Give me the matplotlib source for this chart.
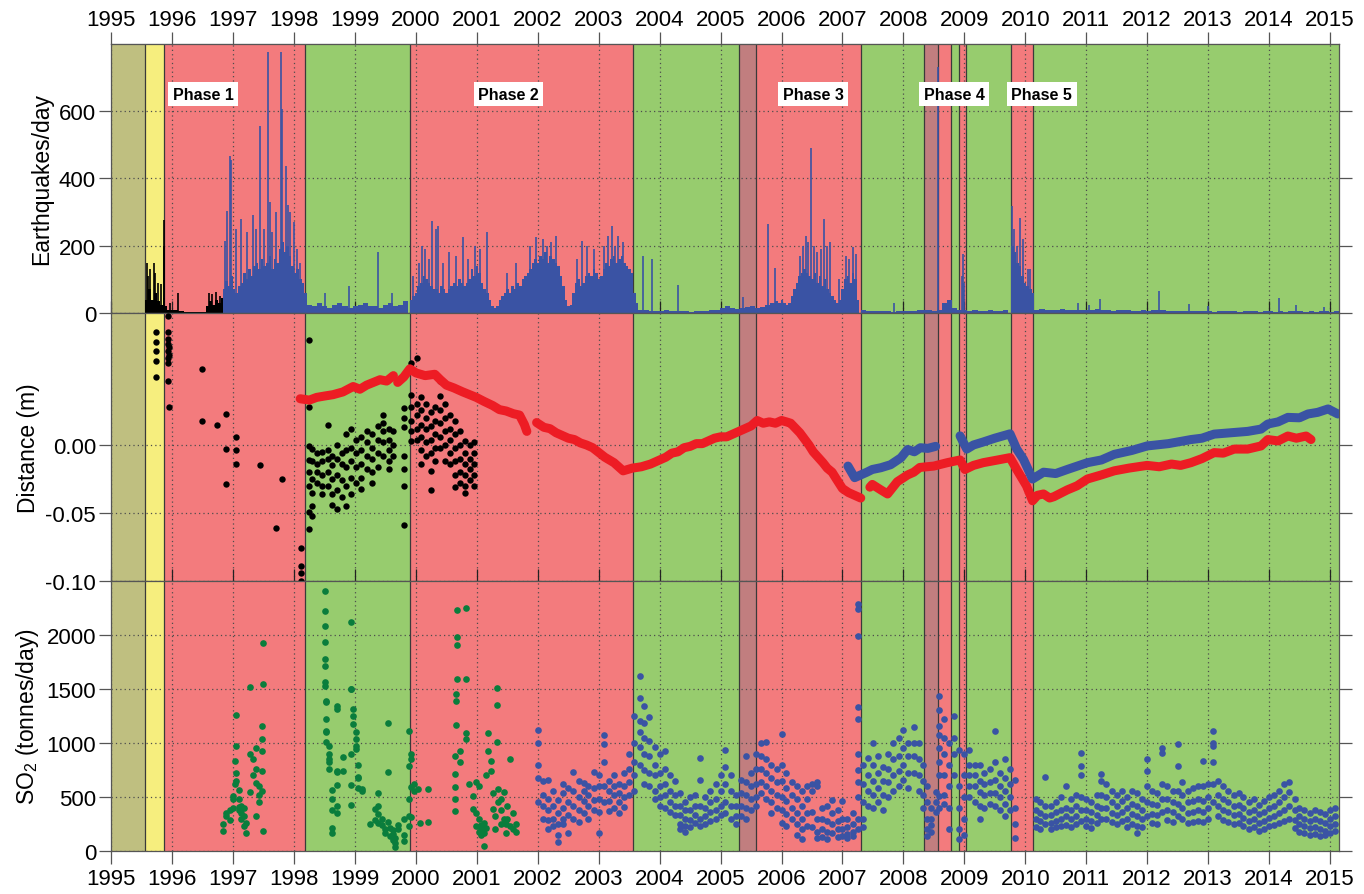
import numpy as np
import matplotlib
matplotlib.use('Agg')
import matplotlib.pyplot as plt

plt.rcParams['font.family'] = ['Liberation Sans', 'DejaVu Sans']
plt.rcParams['mathtext.fontset'] = 'custom'
plt.rcParams['mathtext.rm'] = 'Liberation Sans'
plt.rcParams['axes.unicode_minus'] = False

# ---------------- eruption phases (shaded background) ----------------
phase_edges = [1995.0, 1995.55, 1995.87, 1998.18, 1999.91, 2003.57, 2005.30, 2005.58,
               2007.31, 2008.34, 2008.57, 2008.78, 2008.92, 2009.02, 2009.77, 2010.12, 2015.15]
phase_kind = ['olive', 'yellow', 'red', 'green', 'red', 'green', 'brown', 'red',
              'green', 'brown', 'red', 'green', 'red', 'green', 'red', 'green']
phase_names = ['Phase 1', 'Phase 2', 'Phase 3', 'Phase 4', 'Phase 5']

# ---------------- earthquakes per day ----------------
eq_black_t = [1995.55, 1995.60, 1995.65, 1995.70, 1995.75, 1995.80, 1995.85, 1995.88, 1995.92,
              1996.00, 1996.10, 1996.20, 1996.40, 1996.55, 1996.60, 1996.65, 1996.70, 1996.75,
              1996.80, 1996.84]
eq_black_v = [40, 70, 40, 60, 35, 25, 45, 20, 10, 8, 5, 3, 3, 20, 35, 25, 40, 30, 45, 45]
eq_black_spike_t = [1995.58, 1995.61, 1995.64, 1995.70, 1995.72, 1995.77, 1995.82, 1995.86,
                    1995.87, 1995.96, 1996.10, 1996.60, 1996.66, 1996.72, 1996.78]
eq_black_spike_v = [150, 110, 130, 150, 120, 90, 85, 275, 200, 30, 60, 60, 55, 62, 50]

# half-monthly levels in the swarms, monthly levels in quiet periods
eq_p1 = [70, 95, 80, 110, 70, 60, 80, 90, 120, 100, 130, 110, 140, 150, 130, 160, 140,
         150, 170, 130, 160, 150, 190, 210, 180, 200, 170, 140, 120, 130, 100, 90, 60]
eq_q1 = [25, 20, 30, 20, 15, 25, 30, 20, 15, 20, 25, 30, 20, 20, 15, 25, 30, 20, 25, 35]
eq_p2 = [40, 50, 60, 80, 90, 110, 100, 90, 80, 70, 70, 60, 80, 70, 60, 70, 80,
         90, 80, 100, 90, 80, 90, 100, 130, 110, 140, 120, 90, 70, 60, 40, 20,
         15, 20, 40, 50, 60, 70, 60, 80, 70, 90, 80, 100, 110, 120,
         130, 150, 160, 150, 170, 160, 180, 150, 170, 160, 150, 140, 110, 80, 40, 20, 25,
         60, 90, 100, 80, 90, 110, 120, 110, 130, 120, 100, 110,
         130, 150, 140, 160, 170, 150, 160, 170, 150, 140, 130, 120, 60, 30]
eq_q2 = [10, 8, 6, 5, 6, 8, 7, 5, 6, 5, 4, 5, 6, 5, 8, 10, 15, 20, 15, 12, 15, 18, 20,
         15, 18, 25, 30]
eq_p3 = [35, 30, 40, 30, 25, 30, 50, 70, 90, 110, 120, 130, 120, 110, 100, 120, 90, 110,
         80, 100, 70, 60, 50, 40, 30, 40, 70, 100, 110, 90, 120, 100, 40]
eq_q3 = [8, 6, 5, 6, 5, 5, 4, 6, 5, 5, 6, 8, 10, 8, 6, 8, 30, 40, 15, 10, 8, 6, 8, 7, 6,
         8, 6, 5, 8]
eq_p5 = [200, 180, 150, 140, 110, 90, 80, 70, 60]
eq_q4 = [10, 12, 10, 8, 10, 12, 10, 8, 9, 10, 8, 10, 12, 10, 8, 6, 8, 10, 8, 6, 7, 8, 6,
         8, 10, 8, 6, 5, 6, 5, 6, 7, 5, 5, 6, 4, 5, 6, 5, 5, 4, 5, 6, 5, 4, 5, 6, 4, 5,
         4, 5, 6, 5, 4, 5, 4, 6, 5, 4, 5]
eq_segments = [(1996.83, 1 / 24, eq_p1), (1998.21, 1 / 12, eq_q1), (1999.90, 1 / 24, eq_p2),
               (2003.65, 1 / 12, eq_q2), (2005.90, 1 / 24, eq_p3), (2007.30, 1 / 12, eq_q3),
               (2009.77, 1 / 24, eq_p5), (2010.15, 1 / 12, eq_q4)]

eq_spike_t = [1996.86, 1996.90, 1996.94, 1996.97, 1997.04, 1997.13, 1997.22, 1997.32, 1997.38,
              1997.44, 1997.50, 1997.57, 1997.61, 1997.64, 1997.70, 1997.78, 1997.80, 1997.86,
              1997.90, 1997.94, 1998.00, 1998.05, 1998.10, 1998.50, 1998.90, 1999.38, 1999.60,
              1999.95, 2000.05, 2000.10, 2000.15, 2000.21, 2000.26, 2000.33, 2000.37, 2000.45,
              2000.55, 2000.65, 2000.78, 2000.85, 2000.97, 2001.05, 2001.17, 2001.50, 2001.65,
              2001.88, 2001.97, 2002.08, 2002.15, 2002.22, 2002.30, 2002.65, 2002.72, 2002.80,
              2002.92, 2003.08, 2003.15, 2003.22, 2003.27, 2003.32, 2003.40, 2003.72, 2003.87,
              2004.30, 2005.36, 2005.78, 2005.89, 2006.30, 2006.35, 2006.40, 2006.44, 2006.48,
              2006.53, 2006.58, 2006.65, 2006.69, 2006.75, 2006.80, 2006.95, 2007.05, 2007.11,
              2007.18, 2007.22, 2007.85, 2008.57, 2008.96, 2008.98, 2009.00, 2009.78, 2009.81,
              2009.86, 2009.92, 2009.97, 2010.05, 2010.08, 2010.87, 2011.05, 2011.22, 2012.20,
              2012.68, 2013.00, 2014.16, 2014.45, 2014.90]
eq_spike_v = [215, 302, 467, 455, 250, 280, 240, 290, 250,
              557, 250, 775, 330, 240, 300, 775, 607, 438,
              320, 300, 270, 190, 150, 60, 80, 180, 60,
              110, 150, 200, 190, 160, 274, 250, 259, 150,
              180, 170, 225, 160, 200, 190, 240, 120, 150,
              200, 225, 220, 200, 210, 230, 160, 215, 200,
              190, 200, 230, 260, 200, 230, 210, 170, 160,
              82, 48, 265, 135, 170, 200, 230, 210, 490,
              200, 180, 190, 280, 200, 210, 100, 170, 160,
              195, 175, 30, 730, 110, 175, 90, 318, 250,
              200, 283, 220, 130, 130, 30, 25, 42, 64,
              28, 20, 45, 25, 18]

# ---------------- GPS distance (m) ----------------
dist_black = [
    (1995.74, [0.083, 0.076, 0.069, 0.062, 0.050]),
    (1995.93, [0.095, 0.083, 0.078, 0.074, 0.069, 0.064, 0.060, 0.047]),
    (1995.95, [0.072, 0.066, 0.028]),
    (1996.49, [0.056, 0.018]), (1996.73, [0.015]), (1996.89, [0.023, -0.003, -0.029]),
    (1997.05, [0.006, -0.004, -0.014]), (1997.44, [-0.015]), (1997.70, [-0.061]),
    (1997.80, [-0.025]), (1998.12, [-0.076, -0.089, -0.094, -0.100]),
    (1998.24, [0.077, 0.028, -0.001, -0.011, -0.020, -0.030, -0.049, -0.062]),
    (1998.30, [-0.003, -0.012, -0.025, -0.035, -0.045, -0.052]),
    (1998.38, [-0.006, -0.014, -0.020, -0.028]),
    (1998.45, [-0.005, -0.012, -0.022, -0.030, -0.036]),
    (1998.55, [0.015, -0.004, -0.010, -0.020, -0.030]),
    (1998.62, [-0.008, -0.015, -0.025, -0.036, -0.044]),
    (1998.70, [0.000, -0.010, -0.022, -0.033, -0.047]),
    (1998.78, [-0.006, -0.014, -0.026, -0.038]),
    (1998.86, [0.008, -0.004, -0.016, -0.030, -0.045]),
    (1998.93, [0.012, -0.002, -0.012, -0.024, -0.036]),
    (1999.02, [0.004, -0.006, -0.016, -0.028]),
    (1999.10, [0.006, -0.004, -0.014, -0.024, -0.032]),
    (1999.19, [0.010, 0.002, -0.008, -0.018]),
    (1999.28, [0.008, -0.002, -0.010, -0.020, -0.028]),
    (1999.37, [0.014, 0.004, -0.006, -0.016]),
    (1999.46, [0.022, 0.016, 0.010, 0.002, -0.008]),
    (1999.55, [0.012, 0.004, -0.004, -0.012, -0.018]),
    (1999.63, [0.010, 0.000, -0.008]),
    (1999.80, [0.027, 0.020, 0.013, -0.008, -0.018, -0.030, -0.059]),
    (1999.92, [0.060, 0.037, 0.028, 0.018, 0.010, 0.003]),
    (2000.01, [0.064, 0.030, 0.022, 0.012, 0.004]),
    (2000.08, [0.035, 0.026, 0.015, 0.006, -0.004, -0.014]),
    (2000.16, [0.030, 0.020, 0.012, 0.002, -0.008]),
    (2000.24, [0.024, 0.014, 0.004, -0.006, -0.019, -0.033]),
    (2000.32, [0.028, 0.018, 0.008, -0.002, -0.012]),
    (2000.40, [0.047, 0.036, 0.026, 0.016, 0.006, -0.002]),
    (2000.48, [0.030, 0.020, 0.010, 0.000, -0.012]),
    (2000.56, [0.022, 0.012, 0.004, -0.006, -0.014]),
    (2000.64, [0.018, 0.008, -0.002, -0.012, -0.022, -0.031]),
    (2000.72, [0.010, 0.000, -0.010, -0.020, -0.028]),
    (2000.80, [0.003, -0.006, -0.014, -0.022, -0.030, -0.035]),
    (2000.88, [0.000, -0.010, -0.018, -0.026]),
    (2000.96, [0.002, -0.006, -0.014, -0.022, -0.030]),
]

dist_red_1_t = [1998.10, 1998.25, 1998.37, 1998.50, 1998.64, 1998.80, 1998.97, 1999.08, 1999.19,
                1999.30, 1999.41, 1999.52, 1999.63]
dist_red_1_v = [0.034, 0.033, 0.035, 0.036, 0.037, 0.039, 0.043, 0.041, 0.044,
                0.046, 0.048, 0.047, 0.051]
dist_red_2_t = [1999.70, 1999.80, 1999.90, 2000.00, 2000.15, 2000.31, 2000.40, 2000.50, 2000.62,
                2000.77, 2000.88, 2000.99, 2001.12, 2001.26, 2001.37, 2001.48, 2001.60, 2001.70,
                2001.78, 2001.82]
dist_red_2_v = [0.046, 0.050, 0.056, 0.053, 0.051, 0.052, 0.048, 0.044, 0.042,
                0.039, 0.037, 0.035, 0.032, 0.029, 0.026, 0.025, 0.023, 0.022,
                0.015, 0.010]
dist_red_3_t = [2001.98, 2002.10, 2002.20, 2002.30, 2002.40, 2002.50, 2002.60, 2002.70, 2002.80,
                2002.90, 2003.00, 2003.10, 2003.25, 2003.40, 2003.55, 2003.70, 2003.85, 2004.00,
                2004.10, 2004.20, 2004.30, 2004.40, 2004.50, 2004.60, 2004.70, 2004.80, 2004.90,
                2005.00, 2005.10, 2005.20, 2005.30, 2005.40, 2005.50, 2005.60, 2005.70, 2005.80,
                2005.90, 2006.00, 2006.08, 2006.15, 2006.30, 2006.45, 2006.52, 2006.60, 2006.68,
                2006.75, 2006.83, 2006.90, 2007.00, 2007.10, 2007.20, 2007.30]
dist_red_3_v = [0.0165, 0.013, 0.012, 0.009, 0.007, 0.005, 0.004, 0.0015, 0.000,
                -0.002, -0.0055, -0.009, -0.013, -0.019, -0.017, -0.016, -0.014, -0.011,
                -0.009, -0.006, -0.005, -0.002, -0.001, 0.001, 0.001, 0.003, 0.005,
                0.006, 0.006, 0.008, 0.010, 0.012, 0.014, 0.018, 0.016, 0.017,
                0.016, 0.018, 0.017, 0.016, 0.009, 0.000, -0.005, -0.009, -0.013,
                -0.017, -0.020, -0.025, -0.032, -0.035, -0.037, -0.039]
dist_red_4_t = [2007.45, 2007.49, 2007.63, 2007.74, 2007.90, 2008.07, 2008.17, 2008.27, 2008.50,
                2008.72, 2008.93, 2009.01, 2009.15, 2009.31, 2009.55, 2009.75, 2009.86, 2010.02,
                2010.12, 2010.20, 2010.30, 2010.40, 2010.47, 2010.69, 2010.85, 2011.02, 2011.25,
                2011.46, 2011.70, 2012.00, 2012.20, 2012.40, 2012.55, 2012.72, 2012.90, 2013.10,
                2013.25, 2013.43, 2013.65, 2013.87, 2013.98, 2014.15, 2014.31, 2014.45, 2014.61,
                2014.69]
dist_red_4_v = [-0.031, -0.029, -0.033, -0.036, -0.027, -0.022, -0.020, -0.0165, -0.0155,
                -0.013, -0.011, -0.018, -0.015, -0.013, -0.011, -0.0093, -0.018, -0.030,
                -0.041, -0.037, -0.036, -0.039, -0.038, -0.033, -0.030, -0.025, -0.022,
                -0.019, -0.017, -0.015, -0.016, -0.014, -0.015, -0.013, -0.010, -0.0056,
                -0.006, -0.003, -0.003, -0.0007, 0.004, 0.003, 0.0066, 0.005, 0.0066,
                0.004]
dist_blue_1_t = [2007.09, 2007.20, 2007.30, 2007.40, 2007.49, 2007.63, 2007.79, 2007.96, 2008.07,
                 2008.18, 2008.28, 2008.40, 2008.53]
dist_blue_1_v = [-0.0155, -0.024, -0.022, -0.020, -0.018, -0.0167, -0.0145, -0.0094, -0.0033,
                 -0.005, -0.002, -0.0025, -0.001]
dist_blue_2_t = [2008.93, 2009.04, 2009.15, 2009.31, 2009.50, 2009.75, 2009.86, 2009.97, 2010.12,
                 2010.30, 2010.50, 2010.69, 2011.02, 2011.25, 2011.46, 2011.75, 2012.00, 2012.35,
                 2012.72, 2012.90, 2013.10, 2013.43, 2013.65, 2013.87, 2013.98, 2014.15, 2014.31,
                 2014.50, 2014.64, 2014.80, 2014.97, 2015.13]
dist_blue_2_v = [0.0067, -0.003, 0.000, 0.0022, 0.005, 0.0082, -0.003, -0.0105, -0.025,
                 -0.020, -0.021, -0.018, -0.013, -0.011, -0.0069, -0.004, -0.0007, 0.001,
                 0.004, 0.005, 0.008, 0.0092, 0.010, 0.0117, 0.0154, 0.017, 0.0203,
                 0.020, 0.0228, 0.024, 0.0265, 0.0228]

# ---------------- SO2 flux (tonnes/day) ----------------
so2_green = [
    (1996.84, [250, 190]), (1996.89, [320, 350]), (1996.95, [290, 380]),
    (1997.00, [480, 510, 400]), (1997.03, [835, 620]), (1997.05, [1262, 970, 722, 650]),
    (1997.09, [566, 411, 380, 480]), (1997.13, [420, 350, 300]), (1997.17, [325, 230, 400]),
    (1997.21, [170, 263]), (1997.27, [542, 896]), (1997.28, [1516]), (1997.33, [850, 700]),
    (1997.38, [957, 760, 630, 325]), (1997.42, [600, 450, 520]),
    (1997.47, [925, 1035, 740, 560]), (1997.48, [1160]), (1997.49, [1548, 1926, 186]),
    (1998.51, [2406, 2227, 2083, 1940, 1774, 1717, 1562, 1531]),
    (1998.53, [1376, 1386, 1222, 1098, 1110, 1005]), (1998.57, [970, 820, 850, 900, 760]),
    (1998.63, [566, 480, 380, 210, 170]), (1998.71, [1345, 1314, 730, 745, 610, 420, 350]),
    (1998.80, [870, 740]), (1998.93, [2118, 1500, 1500, 900, 615, 430]),
    (1998.97, [1315, 1252, 1175]), (1999.01, [1098, 945, 1035, 970]),
    (1999.05, [800, 690, 675, 585]), (1999.12, [570, 560]), (1999.25, [248]),
    (1999.32, [387, 290]), (1999.37, [340, 535, 415, 260]), (1999.45, [240, 300]),
    (1999.49, [170, 200]), (1999.54, [1190, 735, 265]), (1999.58, [140, 210]),
    (1999.62, [105, 195, 160]), (1999.66, [70, 40, 120]), (1999.70, [200, 240]),
    (1999.80, [300, 150, 90]), (1999.88, [235, 325, 480]), (1999.89, [1113, 790]),
    (1999.92, [590, 900, 850, 315]), (1999.96, [560, 620]), (2000.04, [570]),
    (2000.07, [260]), (2000.19, [572, 270]),
    (2000.64, [881, 712, 590, 480, 375]), (2000.65, [1167, 1453, 1391]),
    (2000.67, [2236, 1983, 1911, 1592]), (2000.72, [930, 820]),
    (2000.82, [2248, 1592, 1092, 1036]), (2000.87, [620]), (2000.94, [387, 510]),
    (2000.99, [635, 350, 232]), (2001.03, [600, 300, 180]), (2001.07, [240, 150, 200]),
    (2001.11, [45, 170, 260]), (2001.15, [700, 210]), (2001.18, [1092, 930]),
    (2001.23, [835, 745]), (2001.26, [540, 385]), (2001.30, [325, 200]),
    (2001.33, [1351, 1512, 1007]), (2001.34, [570, 450]), (2001.40, [480, 380, 250]),
    (2001.44, [550, 300]), (2001.47, [170, 250]), (2001.50, [420, 300]),
    (2001.55, [850, 230]), (2001.60, [200, 350]), (2001.65, [250, 180]),
]

so2_blue_2002_2005 = [
    (2002.00, [1120, 1000, 800, 680, 450]), (2002.08, [650, 520, 420, 300]),
    (2002.17, [660, 480, 380, 290, 200]), (2002.25, [560, 420, 300, 230]),
    (2002.33, [470, 350, 250, 150, 80]), (2002.42, [620, 540, 400, 300, 250]),
    (2002.50, [580, 450, 330, 170]), (2002.58, [730, 560, 420, 300]),
    (2002.67, [650, 500, 380, 270]), (2002.75, [630, 560, 460, 350]),
    (2002.83, [600, 520, 420, 300]), (2002.92, [730, 580, 470, 380]),
    (2003.00, [700, 600, 480, 360, 170]), (2003.08, [1070, 990, 820, 600, 450]),
    (2003.17, [650, 560, 460, 370]), (2003.25, [700, 600, 520, 400]),
    (2003.33, [620, 540, 450, 350]), (2003.42, [720, 600, 500, 410]),
    (2003.50, [900, 760, 640, 520]), (2003.58, [1250, 1000, 820, 700, 560]),
    (2003.67, [1620, 1420, 1200, 1100, 960, 800]), (2003.75, [1340, 1190, 1050, 900, 750, 620]),
    (2003.83, [1245, 1020, 880, 720, 600]), (2003.92, [960, 800, 700, 560, 480]),
    (2004.00, [900, 720, 600, 500, 420]), (2004.08, [930, 760, 620, 520, 400]),
    (2004.17, [700, 560, 450, 360]), (2004.25, [650, 520, 420, 330]),
    (2004.33, [540, 420, 330, 250, 200]), (2004.42, [450, 380, 300, 230, 180]),
    (2004.50, [500, 380, 290, 220]), (2004.58, [520, 420, 330, 260]),
    (2004.67, [860, 660, 420, 300, 230]), (2004.75, [500, 400, 320, 250]),
    (2004.83, [560, 450, 360, 280]), (2004.92, [620, 480, 380, 300]),
]
so2_blue_2005_2008 = [
    (2005.00, [700, 560, 420, 330]), (2005.08, [940, 780, 620, 450, 350]),
    (2005.17, [700, 560, 420, 300]), (2005.25, [520, 420, 320, 250]),
    (2005.33, [660, 540, 420, 320]), (2005.42, [880, 640, 520, 400, 300]),
    (2005.50, [720, 600, 480, 380]), (2005.58, [900, 760, 620, 500, 420]),
    (2005.67, [1000, 880, 760, 640, 540]), (2005.75, [1005, 850, 720, 600, 480]),
    (2005.83, [800, 680, 560, 450, 350]), (2005.92, [760, 640, 520, 400]),
    (2006.00, [1085, 800, 650, 500, 380, 260]), (2006.08, [720, 580, 460, 340, 230]),
    (2006.17, [640, 520, 400, 300]), (2006.25, [600, 480, 350, 250, 150]),
    (2006.33, [560, 420, 300, 200, 110]), (2006.42, [600, 480, 350, 230]),
    (2006.50, [620, 560, 360, 220]), (2006.58, [640, 600, 300, 180, 120]),
    (2006.67, [400, 300, 200, 130]), (2006.75, [420, 280, 180, 110]),
    (2006.83, [470, 350, 250, 170]), (2006.92, [380, 280, 200, 130]),
    (2007.00, [460, 300, 200, 140]), (2007.08, [300, 220, 160, 120]),
    (2007.17, [350, 250, 180, 140]),
    (2007.25, [2290, 2240, 1995, 1330, 1220, 900, 750, 640, 500, 300, 200]),
    (2007.33, [800, 620, 450, 300, 220]), (2007.42, [860, 700, 560, 420]),
    (2007.50, [1000, 800, 650, 520, 400]), (2007.58, [880, 720, 580, 450]),
    (2007.67, [780, 650, 520, 380]), (2007.75, [900, 760, 640, 500]),
    (2007.83, [1000, 850, 700, 560]), (2007.92, [1050, 880, 740, 600]),
]
so2_blue_2008_2011 = [
    (2008.00, [1120, 950, 800, 660]), (2008.08, [1000, 880, 720, 580]),
    (2008.17, [1150, 1000, 880, 720]), (2008.25, [1000, 850, 700, 560]),
    (2008.33, [800, 650, 520, 400]), (2008.38, [600, 450, 300, 200, 140]),
    (2008.46, [400, 300, 240, 180]), (2008.54, [550, 450, 360]),
    (2008.58, [1440, 1310, 1160, 1070, 950, 820, 700, 510, 400]),
    (2008.67, [1220, 1050, 900, 700, 520, 440]), (2008.75, [1000, 800, 600, 400, 200]),
    (2008.83, [1250, 1050, 900, 700]), (2008.92, [940, 600, 400, 200, 110]),
    (2009.00, [900, 700, 500, 300, 150]), (2009.08, [940, 800, 700, 600, 500]),
    (2009.17, [800, 700, 600, 450]), (2009.25, [800, 650, 550, 420, 300]),
    (2009.33, [720, 620, 520, 400]), (2009.42, [760, 640, 540, 440]),
    (2009.50, [1110, 820, 660, 540, 420]), (2009.58, [720, 600, 500, 380]),
    (2009.67, [850, 680, 560, 440, 320]), (2009.75, [760, 620, 500, 380]),
    (2009.83, [660, 400, 250, 120]),
    (2010.17, [480, 380, 300, 220]), (2010.25, [450, 350, 280, 200]),
    (2010.33, [690, 420, 320, 250]), (2010.42, [420, 330, 260, 200]),
    (2010.50, [450, 360, 280, 220]), (2010.58, [500, 380, 300, 230]),
    (2010.67, [600, 400, 320, 240]), (2010.75, [480, 380, 300, 220]),
    (2010.83, [520, 420, 320, 250]), (2010.92, [910, 790, 700, 500, 380, 280]),
]
so2_blue_2011_2015 = [
    (2011.00, [480, 380, 300, 230]), (2011.08, [450, 360, 280, 210]),
    (2011.17, [520, 420, 330, 260]), (2011.25, [710, 650, 520, 400, 300]),
    (2011.33, [620, 500, 400, 300]), (2011.42, [560, 450, 350, 270]),
    (2011.50, [520, 420, 330, 250]), (2011.58, [560, 460, 360, 280]),
    (2011.67, [500, 400, 300, 220]), (2011.75, [560, 440, 340, 250]),
    (2011.83, [540, 420, 320, 230, 170]), (2011.92, [480, 380, 300, 220]),
    (2012.00, [850, 740, 600, 450, 320]), (2012.08, [560, 440, 340, 260]),
    (2012.17, [540, 430, 330, 250]), (2012.25, [950, 910, 620, 480, 360]),
    (2012.33, [600, 480, 380, 290]), (2012.42, [560, 450, 360, 270]),
    (2012.50, [990, 790, 560, 440, 320]), (2012.58, [640, 520, 400, 300]),
    (2012.67, [560, 450, 350, 260]), (2012.75, [580, 460, 360, 270]),
    (2012.83, [600, 480, 380, 280]), (2012.92, [835, 600, 460, 360, 270]),
    (2013.00, [620, 500, 400, 300]), (2013.08, [1115, 1000, 970, 820, 620, 450]),
    (2013.17, [650, 520, 420, 320]), (2013.25, [600, 480, 380, 290]),
    (2013.33, [560, 450, 360, 270]), (2013.42, [520, 420, 330, 250]),
    (2013.50, [540, 430, 340, 260]), (2013.58, [500, 400, 310, 230]),
    (2013.67, [450, 360, 280, 200]), (2013.75, [480, 380, 300, 220]),
    (2013.83, [430, 340, 260, 190]), (2013.92, [460, 360, 280, 200]),
    (2014.00, [500, 400, 310, 230]), (2014.08, [520, 420, 320, 240]),
    (2014.17, [560, 450, 350, 260]), (2014.25, [620, 500, 380, 280]),
    (2014.33, [640, 550, 420, 300]), (2014.42, [480, 380, 290, 210]),
    (2014.50, [400, 320, 250, 180]), (2014.58, [380, 300, 230, 170]),
    (2014.67, [350, 280, 210, 150]), (2014.75, [380, 300, 220, 160]),
    (2014.83, [360, 280, 200, 140]), (2014.92, [340, 260, 190, 150]),
    (2015.00, [380, 300, 230, 170]), (2015.08, [400, 320, 250, 190]),
]

# ---------------- styling ----------------
shade = {'olive': '#bfbf80', 'yellow': '#f6ee7e', 'red': '#f37b7d',
         'green': '#97cc6e', 'brown': '#c17e7f'}
c_blue = '#3a53a4'
c_red = '#ed1c24'
c_green = '#0a7d3c'
c_axis = '#555555'
years = np.arange(1995, 2016)
x0, x1 = 1995.0, 2015.15
fs = 16


def flatten(rows):
    t, v = [], []
    for ti, vals in rows:
        t.extend([ti] * len(vals))
        v.extend(vals)
    return np.array(t), np.array(v)


fig = plt.figure(figsize=(13.64, 8.95), dpi=100)
ax_eq = fig.add_axes([0.0816, 0.6492, 0.9001, 0.3006])
ax_d = fig.add_axes([0.0816, 0.3497, 0.9001, 0.2994])
ax_so2 = fig.add_axes([0.0816, 0.0480, 0.9001, 0.3017])
axes = [ax_eq, ax_d, ax_so2]

for ax in axes:
    for i, kind in enumerate(phase_kind):
        ax.axvspan(phase_edges[i], phase_edges[i + 1], color=shade[kind], lw=0, zorder=0.1)
    for e in phase_edges[1:-1]:
        ax.axvline(e, color='#3a3a3a', lw=0.9, zorder=0.6)
    ax.set_xlim(x0, x1)
    ax.set_xticks(years)
    ax.grid(True, color='#4d4d4d', linestyle=(0, (1, 2.5)), linewidth=0.9)
    ax.set_axisbelow(True)
    for sp in ax.spines.values():
        sp.set_color(c_axis)
        sp.set_linewidth(0.9)
    ax.tick_params(axis='y', direction='out', left=True, right=True, length=9,
                   width=0.9, color=c_axis, labelsize=fs, pad=2)

# earthquakes
ax_eq.fill_between(eq_black_t, eq_black_v, step='post', color='black', lw=0, zorder=2)
ax_eq.vlines(eq_black_spike_t, 0, eq_black_spike_v, color='black', lw=1.2, zorder=2)
for start, step, vals in eq_segments:
    t = start + step * np.arange(len(vals) + 1)
    v = np.append(vals, vals[-1])
    ax_eq.fill_between(t, v, step='post', color=c_blue, lw=0, zorder=2)
ax_eq.vlines(eq_spike_t, 0, eq_spike_v, color=c_blue, lw=1.2, zorder=2)
ax_eq.set_ylim(0, 800)
ax_eq.set_yticks([0, 200, 400, 600])
ax_eq.set_ylabel('Earthquakes/day', fontsize=fs + 0.5)
ax_eq.tick_params(axis='x', direction='in', length=9, width=0.9, color='#222222',
                  labelbottom=False)
top = ax_eq.secondary_xaxis('top')
top.set_xticks(years)
top.tick_params(direction='out', length=9, width=0.9, color=c_axis, labelsize=fs, pad=1)
top.spines['top'].set_color(c_axis)

label_x = [1996.51, 2001.52, 2006.52, 2008.83, 2010.27]
for name, lx in zip(phase_names, label_x):
    ax_eq.text(lx, 650, name, ha='center', va='center', fontsize=11.5, fontweight='bold',
               bbox=dict(boxstyle='square,pad=0.28', facecolor='white', edgecolor='none'),
               zorder=6)

# distance
bt, bv = flatten(dist_black)
ax_d.plot(bt, bv, 'o', color='black', ms=4.6, mec='none', zorder=3)
for tl, vl in [(dist_red_1_t, dist_red_1_v), (dist_red_2_t, dist_red_2_v),
               (dist_red_3_t, dist_red_3_v), (dist_red_4_t, dist_red_4_v)]:
    ax_d.plot(tl, vl, color=c_red, lw=6.5, solid_capstyle='round',
              solid_joinstyle='round', zorder=3)
for tl, vl in [(dist_blue_1_t, dist_blue_1_v), (dist_blue_2_t, dist_blue_2_v)]:
    ax_d.plot(tl, vl, color=c_blue, lw=6.5, solid_capstyle='round',
              solid_joinstyle='round', zorder=3)
ax_d.set_ylim(-0.1, 0.097)
ax_d.set_yticks([-0.10, -0.05, 0.0])
ax_d.set_yticklabels(['-0.10', '-0.05', '0.00'])
ax_d.set_ylabel('Distance (m)', fontsize=fs + 0.5)
ax_d.tick_params(axis='x', direction='in', length=9, width=0.9, color='#222222',
                 labelbottom=False)

# SO2
gt, gv = flatten(so2_green)
ax_so2.plot(gt, gv, 'o', color=c_green, ms=4.8, mec='none', zorder=3)
for rows in [so2_blue_2002_2005, so2_blue_2005_2008, so2_blue_2008_2011, so2_blue_2011_2015]:
    st, sv = flatten(rows)
    ax_so2.plot(st, sv, 'o', color=c_blue, ms=4.8, mec='none', zorder=3)
ax_so2.set_ylim(0, 2500)
ax_so2.set_yticks([0, 500, 1000, 1500, 2000])
ax_so2.set_ylabel('SO$_2$ (tonnes/day)', fontsize=fs + 0.5)
ax_so2.tick_params(axis='x', direction='out', length=9, width=0.9, color=c_axis,
                   labelsize=fs, pad=3)

fig.savefig('out.png', dpi=100)
